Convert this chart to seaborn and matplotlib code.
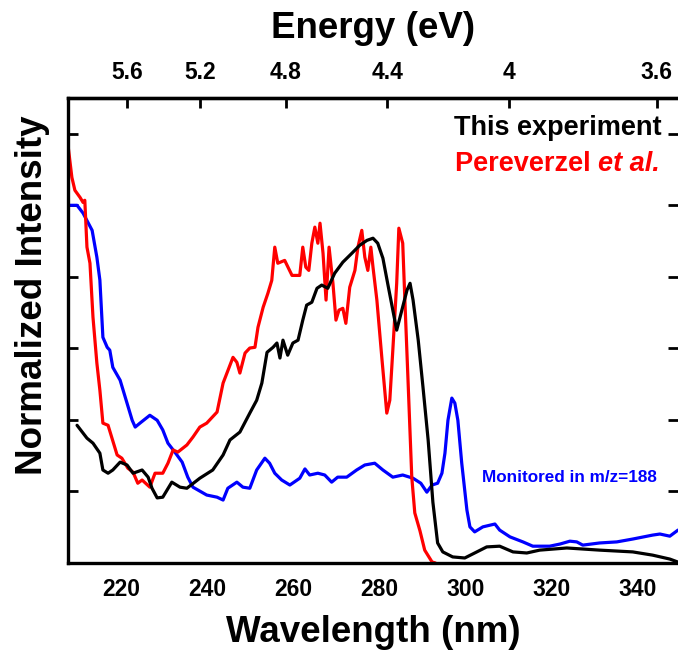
import numpy as np
import pandas as pd
import matplotlib
matplotlib.use("Agg")
import matplotlib.pyplot as plt
import seaborn as sns

# ---- data ----
exp_wl = [209.8, 212.1, 213.5, 215.1, 215.8, 217.0, 218.1, 219.8, 221.4, 222.8, 224.9, 226.3, 227.2, 228.4,
          229.7, 231.8, 233.7, 235.3, 238.3, 241.3, 243.7, 245.3, 247.6, 249.9, 251.5, 252.7, 253.9, 255.3,
          256.2, 256.9, 257.6, 258.7, 259.9, 261.1, 262.2, 263.1, 264.3, 265.5, 266.6, 268.0, 269.6, 271.5,
          273.6, 275.4, 277.1, 278.5, 279.6, 280.8, 281.9, 283.1, 284.0, 285.2, 286.4, 287.1, 287.8, 289.0,
          290.1, 291.3, 292.4, 293.5, 294.7, 297.0, 299.8, 302.6, 304.9, 307.9, 311.0, 314.2, 317.2, 323.5,
          331.1, 338.8, 343.4, 347.4, 349.2]
exp_int = [0.385, 0.349, 0.335, 0.307, 0.260, 0.251, 0.260, 0.282, 0.274, 0.251, 0.260, 0.240, 0.209, 0.182,
           0.184, 0.226, 0.212, 0.209, 0.237, 0.260, 0.302, 0.344, 0.366, 0.419, 0.455, 0.503, 0.589, 0.603,
           0.615, 0.573, 0.623, 0.581, 0.615, 0.623, 0.679, 0.721, 0.729, 0.768, 0.777, 0.768, 0.810, 0.841,
           0.866, 0.888, 0.902, 0.908, 0.894, 0.852, 0.782, 0.707, 0.651, 0.707, 0.763, 0.782, 0.735, 0.623,
           0.492, 0.344, 0.170, 0.056, 0.031, 0.017, 0.014, 0.031, 0.045, 0.047, 0.031, 0.028, 0.036, 0.042,
           0.036, 0.031, 0.022, 0.011, 0.003]

lit_wl = [207.7, 208.6, 209.3, 210.5, 211.2, 211.6, 212.1, 212.8, 213.5, 214.4, 215.1, 215.8, 217.0, 219.1,
          220.2, 221.6, 222.8, 223.9, 224.9, 226.7, 227.9, 229.7, 230.9, 232.1, 233.2, 235.3, 236.7, 238.3,
          239.9, 242.3, 243.7, 246.0, 246.9, 247.6, 248.8, 249.9, 251.1, 251.8, 253.0, 254.1, 255.0, 255.7,
          256.4, 258.0, 259.7, 261.5, 262.2, 262.9, 263.6, 264.3, 265.0, 265.7, 266.2, 266.9, 267.6, 268.3,
          269.2, 269.9, 270.6, 271.5, 272.2, 273.1, 274.3, 275.0, 275.9, 276.6, 277.3, 278.0, 278.5, 279.4,
          280.6, 281.7, 282.4, 283.1, 284.0, 284.5, 285.4, 285.9, 286.6, 287.5, 288.2, 289.4, 290.5, 292.2, 293.0]
lit_int = [1.168, 1.078, 1.042, 1.022, 1.008, 1.014, 0.883, 0.838, 0.687, 0.559, 0.483, 0.391, 0.385, 0.302,
           0.293, 0.265, 0.254, 0.223, 0.232, 0.212, 0.251, 0.251, 0.279, 0.316, 0.310, 0.330, 0.352, 0.380,
           0.391, 0.422, 0.503, 0.575, 0.561, 0.531, 0.587, 0.601, 0.603, 0.659, 0.715, 0.754, 0.790, 0.883,
           0.838, 0.846, 0.804, 0.804, 0.883, 0.827, 0.818, 0.894, 0.939, 0.894, 0.950, 0.866, 0.735, 0.883,
           0.782, 0.679, 0.707, 0.712, 0.670, 0.771, 0.818, 0.883, 0.930, 0.855, 0.818, 0.883, 0.827, 0.735,
           0.567, 0.419, 0.455, 0.595, 0.782, 0.936, 0.894, 0.735, 0.520, 0.240, 0.140, 0.090, 0.036, 0.003, 0.0]

mon_wl = [207.7, 209.8, 211.2, 213.3, 214.4, 215.1, 215.8, 216.8, 217.4, 218.1, 219.8, 221.4, 222.6, 223.3,
          224.4, 226.7, 228.4, 229.7, 230.9, 232.5, 234.2, 235.5, 236.7, 239.9, 242.3, 243.7, 244.8, 246.9,
          248.3, 249.9, 251.5, 253.4, 254.5, 255.7, 257.3, 259.2, 261.5, 262.7, 263.8, 265.7, 267.3, 268.9,
          270.3, 272.4, 274.7, 276.6, 278.9, 280.8, 283.1, 285.4, 287.8, 289.6, 291.0, 292.2, 293.5, 294.5,
          295.2, 295.9, 296.8, 297.5, 298.2, 299.1, 300.3, 301.0, 302.1, 304.0, 306.8, 307.9, 310.3, 313.3,
          315.6, 319.5, 321.9, 324.2, 325.8, 327.2, 331.1, 335.1, 338.8, 343.4, 345.1, 347.4, 349.3]
mon_int = [1.000, 1.000, 0.978, 0.930, 0.855, 0.791, 0.631, 0.603, 0.595, 0.547, 0.511, 0.447, 0.399, 0.380,
           0.391, 0.413, 0.399, 0.372, 0.335, 0.310, 0.282, 0.240, 0.212, 0.190, 0.184, 0.176, 0.209, 0.226,
           0.212, 0.209, 0.260, 0.293, 0.279, 0.251, 0.232, 0.218, 0.237, 0.263, 0.246, 0.251, 0.246, 0.226,
           0.240, 0.240, 0.260, 0.274, 0.279, 0.260, 0.240, 0.246, 0.237, 0.223, 0.198, 0.218, 0.223, 0.251,
           0.307, 0.399, 0.461, 0.447, 0.399, 0.279, 0.148, 0.101, 0.087, 0.101, 0.109, 0.092, 0.073, 0.059,
           0.047, 0.047, 0.053, 0.061, 0.059, 0.050, 0.056, 0.059, 0.067, 0.078, 0.081, 0.075, 0.092]

x_tick_labels = [220, 240, 260, 280, 300, 320, 340]
energy_ticks = [5.6, 5.2, 4.8, 4.4, 4.0, 3.6]
energy_labels = ["5.6", "5.2", "4.8", "4.4", "4", "3.6"]

df = pd.concat([
    pd.DataFrame({"wl": exp_wl, "I": exp_int, "series": "This experiment"}),
    pd.DataFrame({"wl": lit_wl, "I": lit_int, "series": "Pereverzel"}),
    pd.DataFrame({"wl": mon_wl, "I": mon_int, "series": "Monitored"}),
], ignore_index=True)

sns.set_style("white")
plt.rcParams["font.family"] = ["Liberation Sans", "DejaVu Sans"]
plt.rcParams["font.weight"] = "bold"
plt.rcParams["text.color"] = "black"
plt.rcParams["axes.labelcolor"] = "black"
plt.rcParams["xtick.color"] = "black"
plt.rcParams["ytick.color"] = "black"

W, H = 678, 653
fig = plt.figure(figsize=(W / 100, H / 100), dpi=100)
ax = fig.add_axes([68 / W, 1 - 563 / H, 1 - 68 / W, (563 - 98) / H])

palette = {"Monitored": "#0000ff", "Pereverzel": "#ff0000", "This experiment": "#000000"}
for name in ["Monitored", "Pereverzel", "This experiment"]:
    sns.lineplot(data=df[df["series"] == name], x="wl", y="I", color=palette[name],
                 linewidth=2.3, ax=ax, sort=False, legend=False)

ax.set_xlim(207.7, 349.3)
ax.set_ylim(0, 1.3)

for s in ax.spines.values():
    s.set_linewidth(2.4)
    s.set_color("black")
ax.spines["right"].set_visible(False)

ax.set_xticks(x_tick_labels)
ax.set_xticklabels([str(v) for v in x_tick_labels], fontsize=16.5, fontweight="bold")
ax.set_yticks(np.arange(0, 1.21, 0.2))
ax.set_yticklabels([])
ax.tick_params(axis="x", direction="in", length=7, width=2, pad=11, top=False)
ax.tick_params(axis="y", direction="in", length=7, width=2, left=True, right=True)
ax.set_xlabel("")
ax.set_ylabel("")

hc = 1239.84
sec = ax.secondary_xaxis("top", functions=(lambda x: hc / np.asarray(x, dtype=float),
                                            lambda e: hc / np.asarray(e, dtype=float)))
sec.set_xticks(energy_ticks)
sec.set_xticklabels(energy_labels, fontsize=16.5, fontweight="bold")
sec.tick_params(direction="in", length=7, width=2, pad=10)
sec.spines["top"].set_linewidth(2.4)

ft = fig.transFigure
fig.text(373 / W, 1 - 632 / H, "Wavelength (nm)", fontsize=26.5, fontweight="bold",
         ha="center", va="center")
fig.text(373 / W, 1 - 28 / H, "Energy (eV)", fontsize=26.5, fontweight="bold",
         ha="center", va="center")
fig.text(33 / W, 1 - 295 / H, "Normalized Intensity", fontsize=26.5, fontweight="bold",
         ha="center", va="center", rotation=90)

ax.text(662 / W, 1 - 128 / H, "This experiment", transform=ft, fontsize=19.5, fontweight="bold",
        color="black", ha="right", va="center")
t1 = ax.text(455 / W, 1 - 164 / H, "Pereverzel ", transform=ft, fontsize=19.5, fontweight="bold",
             color="#ff0000", ha="left", va="center")
ax.annotate("et al.", xycoords=t1, xy=(1, 0.5), va="center", ha="left", fontsize=19.5,
            fontweight="bold", fontstyle="italic", color="#ff0000")
ax.text(657 / W, 1 - 478 / H, "Monitored in m/z=188", transform=ft, fontsize=12.3, fontweight="bold",
        color="#0000ff", ha="right", va="center")

fig.savefig("out.png", dpi=100)
